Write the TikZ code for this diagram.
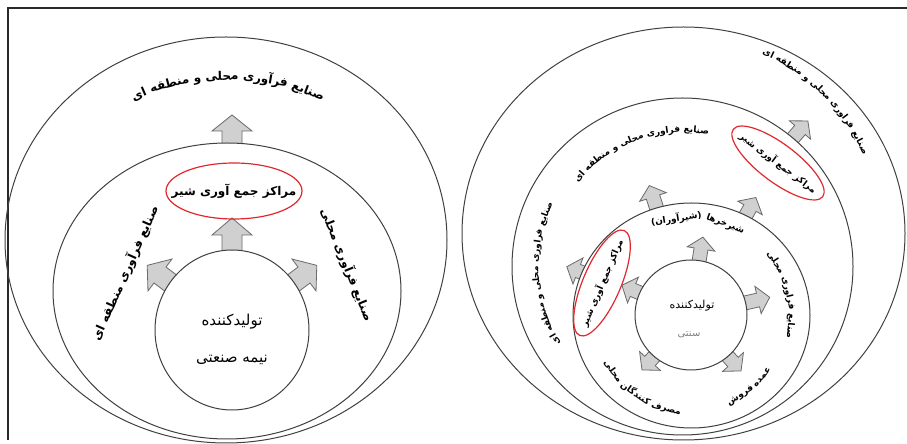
\documentclass[tikz,border=0pt]{standalone}
\usepackage{fontspec}
\usetikzlibrary{calc,shapes.geometric}
\newfontfamily\fa[Script=Arabic]{DejaVu Sans}
\TeXXeTstate=1
\definecolor{ringgray}{HTML}{404040}
\definecolor{redc}{HTML}{E0282E}
\definecolor{arrowfill}{HTML}{D0D0D0}
\definecolor{arrowline}{HTML}{6A6A6A}
\definecolor{framec}{HTML}{2A2A2A}
\newcommand\lpfont{\fa\bfseries\fontsize{12}{14}\selectfont}
\newcommand\rpfont{\fa\bfseries\fontsize{9}{11}\selectfont}
% measure words outside the picture: #1 id, #2 font, #3 words
\newcommand\measurewords[3]{%
  \setbox0=\hbox{#2\ }\expandafter\xdef\csname aw@#1@space\endcsname{\the\wd0}%
  \foreach \w in {#3}{%
    \setbox0=\hbox{#2\w}%
    \expandafter\xdef\csname aw@#1@\w\endcsname{\the\wd0}%
  }%
}
% #1 cx, #2 cy, #3 radius, #4 mid angle, #5 +1 tops outward / -1 tops inward, #6 font, #7 font id, #8 words (RTL order)
\newcommand\arctext[8]{%
  \gdef\arcsum{0}%
  \foreach \w in {#8}{%
    \pgfmathsetmacro\arctmp{\arcsum+\csname aw@#7@\w\endcsname+\csname aw@#7@space\endcsname}%
    \global\let\arcsum\arctmp
  }%
  \pgfmathsetmacro\arcspan{(\arcsum-\csname aw@#7@space\endcsname)/(#3)*57.29578}%
  \pgfmathsetmacro\arcstart{#4-(#5)*\arcspan/2}%
  \global\let\arcpos\arcstart
  \foreach \w in {#8}{%
    \pgfmathsetmacro\arcang{\arcpos+(#5)*\csname aw@#7@\w\endcsname/2/(#3)*57.29578}%
    \pgfmathsetmacro\arcrot{\arcang-(#5)*90}%
    \node[rotate=\arcrot,inner sep=0pt,anchor=base] at ($(#1,#2)+(\arcang:#3)$) {#6\w};%
    \pgfmathsetmacro\arcnext{\arcpos+(#5)*(\csname aw@#7@\w\endcsname+\csname aw@#7@space\endcsname)/(#3)*57.29578}%
    \global\let\arcpos\arcnext
  }%
}
% #1 x, #2 y (head base centre), #3 angle, #4 head width, #5 shaft width, #6 head length, #7 tail length
\newcommand\blockarrow[7]{%
  \draw[blockarr,shift={(#1,#2)},rotate=#3]
    (-#7,-#5/2) -- (0,-#5/2) -- (0,-#4/2) -- (#6,0) -- (0,#4/2) -- (0,#5/2) -- (-#7,#5/2) -- cycle;
}
\tikzset{
  ring/.style={draw=ringgray,line width=1pt},
  whitering/.style={ring,fill=white},
  redring/.style={draw=redc,line width=1.2pt},
  blockarr/.style={draw=arrowline,fill=arrowfill,line width=0.8pt,line join=miter},
  framel/.style={draw=framec,line width=1.3pt},
}
\begin{document}
\measurewords{lp}{\lpfont}{صنایع,فرآوری,محلی,و,منطقه,ای}%
\measurewords{rp}{\rpfont}{صنایع,فراوری,محلی,و,منطقه,ای,شیرخرها,(شیرآوران),عمده,فروش,مصرف,کنندگان}%
\begin{tikzpicture}[x=1pt,y=1pt]
\useasboundingbox (0,0) rectangle (907,444);
% frame
\coordinate (ftl) at (8,436);
\coordinate (ftr) at (907,436);
\coordinate (fbl) at (8,4);
\draw[framel] (fbl) -- (ftl) -- (ftr);

% ===== left panel =====
\node[ring,ellipse,minimum width=442pt,minimum height=406pt,inner sep=0pt] (Lout) at (226,204) {};
\blockarrow{232}{313}{90}{40}{20}{16}{20}
\node[whitering,ellipse,minimum width=348pt,minimum height=296pt,inner sep=0pt] (Lmid) at (227,153) {};
\blockarrow{232}{209}{90}{40}{20}{17}{22}
\blockarrow{160}{169}{143}{40}{20}{16}{32}
\blockarrow{304}{169}{37}{40}{20}{16}{32}
\node[whitering,ellipse,minimum width=154pt,minimum height=160pt,inner sep=0pt] (Lin) at (232,114) {};
\node[redring,ellipse,minimum width=136pt,minimum height=56pt,inner sep=0pt] (Lred) at (234,253) {};
\node (Lredt) at (Lred) {\lpfont\beginR مراکز جمع آوری شیر\endR};
\arctext{228}{144}{220}{90}{1}{\lpfont}{lp}{صنایع,فرآوری,محلی,و,منطقه,ای}
\node[rotate=66] (Lleft) at (125,171) {\lpfont\beginR صنایع فرآوری منطقه ای\endR};
\node[rotate=-68] (Lright) at (347,179) {\lpfont\beginR صنایع فرآوری محلی\endR};
\node (Lp1) at (232,122) {\fa\fontsize{15}{17}\selectfont تولیدکننده};
\node (Lp2) at (232,84) {\fa\fontsize{15}{17}\selectfont\beginR نیمه صنعتی\endR};

% ===== right panel =====
\node[ring,ellipse,minimum width=443pt,minimum height=413pt,inner sep=0pt] (Rout) at (683.5,210.5) {};
\blockarrow{800}{314}{49}{28}{14}{12}{16}
\node[whitering,ellipse,minimum width=341pt,minimum height=337pt,inner sep=0pt] (Rsec) at (682.5,177.5) {};
\blockarrow{653}{247}{108}{28}{14}{12}{16}
\blockarrow{750}{236}{61}{28}{14}{12}{16}
\blockarrow{578}{173}{159}{28}{14}{12}{16}
\node[whitering,ellipse,minimum width=237pt,minimum height=225pt,inner sep=0pt] (Rthr) at (691.5,128.5) {};
\blockarrow{701}{195}{81}{28}{14}{12}{16}
\blockarrow{758}{144}{13}{28}{14}{12}{16}
\blockarrow{733}{82}{-48}{28}{14}{12}{16}
\blockarrow{650}{83}{-132}{28}{14}{12}{16}
\blockarrow{633}{154}{157}{28}{14}{12}{16}
\node[whitering,ellipse,minimum width=112pt,minimum height=110pt,inner sep=0pt] (Rin) at (691,129) {};
\node[redring,ellipse,minimum width=112pt,minimum height=38pt,inner sep=0pt,rotate=-37] (Rred1) at (778,281) {};
\node[rotate=-37] (Rred1t) at (Rred1) {\rpfont\beginR مراکز جمع آوری شیر\endR};
\node[redring,ellipse,minimum width=114pt,minimum height=38pt,inner sep=0pt,rotate=67] (Rred2) at (602,161) {};
\node[rotate=67] (Rred2t) at (Rred2) {\rpfont\beginR مراکز جمع آوری شیر\endR};
\arctext{683.5}{210.5}{196}{45}{1}{\rpfont}{rp}{صنایع,فراوری,محلی,و,منطقه,ای}
\arctext{682.5}{177.5}{134}{110}{1}{\rpfont}{rp}{صنایع,فراوری,محلی,و,منطقه,ای}
\arctext{682.5}{177.5}{144}{183}{1}{\rpfont}{rp}{صنایع,فراوری,محلی,و,منطقه,ای}
\arctext{691.5}{128.5}{95}{86}{1}{\rpfont}{rp}{شیرخرها,(شیرآوران)}
\arctext{691.5}{128.5}{97}{13}{1}{\rpfont}{rp}{صنایع,فراوری,محلی}
\arctext{691.5}{128.5}{96}{-51}{-1}{\rpfont}{rp}{عمده,فروش}
\arctext{691.5}{128.5}{99}{-124}{-1}{\rpfont}{rp}{مصرف,کنندگان,محلی}
\node (Rp1) at (692,138) {\fa\fontsize{11}{13}\selectfont تولیدکننده};
\node[text=gray] (Rp2) at (689,109) {\fa\fontsize{10}{12}\selectfont سنتی};
\end{tikzpicture}
\end{document}
